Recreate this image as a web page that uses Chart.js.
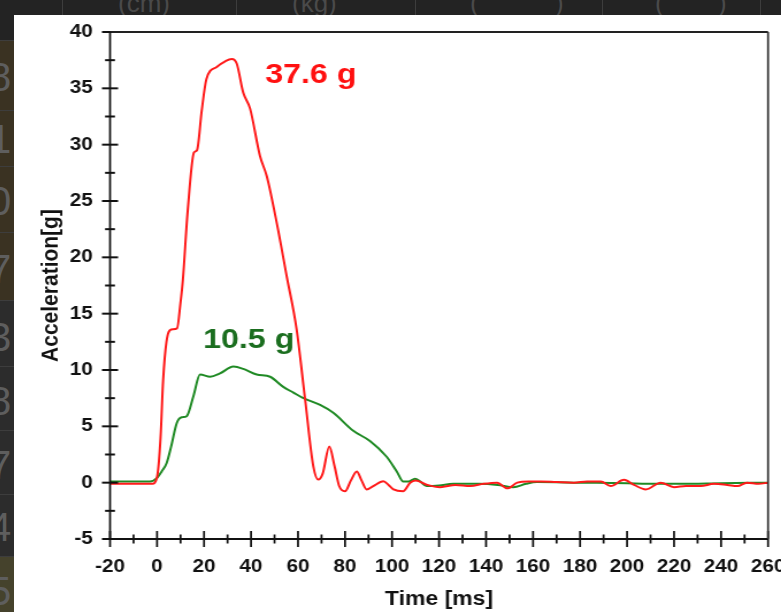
<!DOCTYPE html>
<html>
<head>
<meta charset="utf-8">
<script src="https://cdn.jsdelivr.net/npm/chart.js@4.4.1/dist/chart.umd.min.js"></script>
<style>
  html, body { margin: 0; padding: 0; width: 781px; height: 612px; overflow: hidden; background: #232323; font-family: "Liberation Sans", Arial, sans-serif; }
  .row { position: absolute; left: 0; width: 14px; border-top: 1px solid #3d3d3d; overflow: hidden; }
  .dig { position: absolute; left: -11px; font-size: 40px; line-height: 1; color: #5e5e5e; }
  .top { position: absolute; top: -12px; font-size: 26px; color: #4a4a4a; }
  .sep { position: absolute; top: 0; width: 1px; height: 15px; background: #3d3d3d; }
  #panel { position: absolute; left: 14px; top: 15px; width: 767px; height: 597px; background: #fff; overflow: hidden; }
  #wrap { position: absolute; left: 0; top: 0; width: 700px; height: 597px; transform: scaleX(1.15); transform-origin: 0 0; }
</style>
</head>
<body>
<!-- table behind the screenshot -->
<div class="sep" style="left:62px"></div><div class="sep" style="left:236px"></div>
<div class="sep" style="left:415px"></div><div class="sep" style="left:602px"></div><div class="sep" style="left:760px"></div>
<div class="top" style="left:118px">(cm)</div>
<div class="top" style="left:292px">(kg)</div>
<div class="top" style="left:470px">(</div><div class="top" style="left:555px">)</div>
<div class="top" style="left:655px">(</div><div class="top" style="left:718px">)</div>
<div class="row" style="top:40px;height:70px;background:#3a3222"><span class="dig" style="top:16px">8</span></div>
<div class="row" style="top:110px;height:56px;background:#3a3222"><span class="dig" style="top:8px">1</span></div>
<div class="row" style="top:166px;height:66px;background:#3a3222"><span class="dig" style="top:14px">0</span></div>
<div class="row" style="top:232px;height:68px;background:#3a3222"><span class="dig" style="top:16px">7</span></div>
<div class="row" style="top:300px;height:66px;background:#2c2c2c"><span class="dig" style="top:16px">3</span></div>
<div class="row" style="top:366px;height:64px;background:#2c2c2c"><span class="dig" style="top:14px">8</span></div>
<div class="row" style="top:430px;height:64px;background:#2c2c2c"><span class="dig" style="top:14px">7</span></div>
<div class="row" style="top:494px;height:62px;background:#2c2c2c"><span class="dig" style="top:12px">4</span></div>
<div class="row" style="top:556px;height:56px;background:#45422c"><span class="dig" style="top:14px">5</span></div>

<div id="panel"><div id="wrap"><canvas id="c" width="700" height="597"></canvas></div></div>

<script>
// ── data ──
const timeRed = [-20, -5, -2, 0, 1.5, 2.6, 4, 6, 8.5, 10, 11, 13, 15.7, 17, 19, 21, 25.4, 29, 31.8, 33.9, 36.7,
  39.6, 43.8, 46.7, 50.9, 55.2, 59.4, 63, 66.5, 68.6, 70.5, 73.3, 75.5, 77.5, 80, 82.5, 85, 87, 89.2, 92,
  96.3, 98.5, 100.6, 104.7, 107.7, 110, 115, 120.5, 127, 133.3, 139, 144.7, 149, 153.3, 158, 163.3, 170,
  177.4, 183, 188.8, 193, 198.7, 203, 208, 214.3, 220, 225, 231.3, 237, 242.7, 247, 251, 256, 260];
const accRed = [-0.1, -0.1, -0.1, 0.5, 4, 9.1, 12.5, 13.6, 13.7, 16, 18, 24, 29.3, 29.5, 33, 35.8, 36.9, 37.4, 37.6, 37.2, 34.6,
  33.2, 29, 27.2, 23.1, 18.3, 13.6, 7.4, 1.45, 0.27, 0.8, 3.2, 1.5, -0.3, -0.77, 0.2, 1.0, 0.2, -0.6, -0.3,
  0.12, -0.2, -0.6, -0.77, 0, 0.2, -0.2, -0.4, -0.2, -0.3, -0.1, 0, -0.5, 0, 0.1, 0.1, 0.05,
  0, 0.1, 0.1, -0.3, 0.25, -0.2, -0.6, 0, -0.4, -0.3, -0.3, -0.1, -0.2, -0.3, 0, -0.1, 0];

const timeGreen = [-20, -3, -0.1, 2, 4.1, 6, 8.4, 10.5, 12.6, 15.5, 18.3, 22.6, 26.8, 32.5, 36.7, 42.4, 48.1, 53.7, 58,
  62.3, 69.4, 75, 83.5, 90.6, 97.7, 102, 104.8, 107, 109.8, 112, 114.7, 120, 126, 137, 145, 151.6, 157,
  161.6, 180, 200, 208.5, 222.7, 240, 260];
const accGreen = [0.1, 0.1, 0.4, 1.0, 1.75, 3.2, 5.3, 5.8, 5.9, 7.7, 9.6, 9.4, 9.7, 10.3, 10.1, 9.6, 9.4, 8.5, 8.0,
  7.5, 6.9, 6.2, 4.6, 3.7, 2.3, 1.0, 0.1, 0.1, 0.35, 0.1, -0.3, -0.25, -0.1, -0.1, -0.2, -0.4, -0.1,
  0.05, 0, -0.05, -0.1, -0.1, -0.05, 0];

const xLabels = [-20, 0, 20, 40, 60, 80, 100, 120, 140, 160, 180, 200, 220, 240, 260];
const yLabels = [-5, 0, 5, 10, 15, 20, 25, 30, 35, 40];
const peakLabels = ['37.6 g', '10.5 g'];

const RED = '#ff1a1a';
const GREEN = '#1f8a24';
const SX = 1.15; // horizontal stretch of the screenshot

const tickFont = { family: '"Liberation Sans", Arial, sans-serif', size: 18, weight: 'bold' };

// frame + ticks that cross the axes
const frame = {
  id: 'frame',
  afterDatasetsDraw(chart) {
    const { ctx, chartArea: a, scales: { x, y } } = chart;
    ctx.save();
    ctx.strokeStyle = '#111';
    // ticks on x axis
    x.ticks.forEach(t => {
      const px = x.getPixelForValue(t.value);
      const major = t.value % 20 === 0;
      ctx.lineWidth = 2 / SX;
      ctx.beginPath();
      ctx.moveTo(px, a.bottom - (major ? 8 : 4.5));
      ctx.lineTo(px, a.bottom + (major ? 8 : 4.5));
      ctx.stroke();
    });
    // ticks on y axis
    y.ticks.forEach(t => {
      const py = y.getPixelForValue(t.value);
      const major = t.value % 5 === 0;
      ctx.lineWidth = 2;
      ctx.beginPath();
      ctx.moveTo(a.left - (major ? 7 : 4.3), py);
      ctx.lineTo(a.left + (major ? 7 : 4.3), py);
      ctx.stroke();
    });
    // axis lines
    ctx.lineWidth = 2;
    ctx.beginPath(); ctx.moveTo(a.left, a.bottom); ctx.lineTo(a.right, a.bottom); ctx.stroke();
    ctx.strokeStyle = '#222';
    ctx.beginPath(); ctx.moveTo(a.left, a.top); ctx.lineTo(a.right, a.top); ctx.stroke();
    ctx.lineWidth = 2 / SX;
    ctx.strokeStyle = '#111';
    ctx.beginPath(); ctx.moveTo(a.left, a.top); ctx.lineTo(a.left, a.bottom); ctx.stroke();
    ctx.strokeStyle = '#333';
    ctx.beginPath(); ctx.moveTo(a.right, a.top); ctx.lineTo(a.right, a.bottom); ctx.stroke();

    // peak labels
    ctx.font = 'bold 28px "Liberation Sans", Arial, sans-serif';
    ctx.textBaseline = 'middle';
    ctx.textAlign = 'left';
    ctx.fillStyle = '#ff1010';
    ctx.fillText(peakLabels[0], x.getPixelForValue(46), y.getPixelForValue(36.2));
    ctx.fillStyle = '#1b6e1f';
    ctx.fillText(peakLabels[1], x.getPixelForValue(19.6), y.getPixelForValue(12.6));
    ctx.restore();
  }
};

new Chart(document.getElementById('c'), {
  type: 'line',
  data: {
    datasets: [
      {
        label: 'Red',
        data: timeRed.map((t, i) => ({ x: t, y: accRed[i] })),
        borderColor: RED,
        borderWidth: 2,
      },
      {
        label: 'Green',
        data: timeGreen.map((t, i) => ({ x: t, y: accGreen[i] })),
        borderColor: GREEN,
        borderWidth: 2,
      },
    ],
  },
  options: {
    responsive: false, animation: false, devicePixelRatio: 1,
    layout: { padding: { left: 0, right: 44.3, top: 17, bottom: 0 } },
    plugins: { legend: { display: false }, tooltip: { enabled: false } },
    elements: { point: { radius: 0 }, line: { cubicInterpolationMode: 'monotone' } },
    scales: {
      x: {
        type: 'linear', min: -20, max: 260,
        grid: { display: false, drawTicks: false }, border: { display: false },
        ticks: {
          stepSize: 10, autoSkip: false, maxRotation: 0, padding: 17, color: '#111', font: tickFont,
          callback: v => xLabels.includes(v) ? String(v) : '',
        },
        title: { display: true, text: 'Time [ms]', color: '#111', padding: { top: 0, bottom: 1 },
          font: { family: tickFont.family, size: 20, weight: 'bold' } },
        afterFit: s => { s.height = 73; s.paddingLeft = 0; s.paddingRight = 0; },
      },
      y: {
        min: -5, max: 40,
        grid: { display: false, drawTicks: false }, border: { display: false },
        ticks: {
          stepSize: 2.5, autoSkip: false, padding: 15, color: '#111', font: tickFont,
          callback: v => yLabels.includes(v) ? String(v) : '',
        },
        title: { display: true, text: 'Acceleration[g]', color: '#111', padding: { top: 20, bottom: 0 },
          font: { family: tickFont.family, size: 21, weight: 'bold' } },
        afterFit: s => { s.width = 83.5; s.paddingTop = 0; s.paddingBottom = 0; },
      },
    },
  },
  plugins: [frame],
});
</script>
</body>
</html>
